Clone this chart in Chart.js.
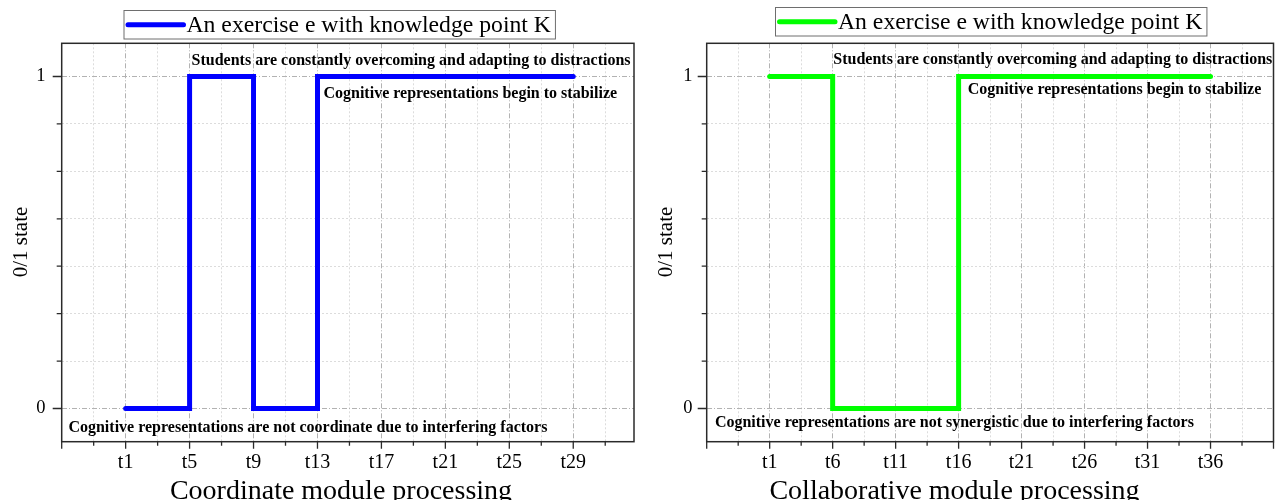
<!DOCTYPE html>
<html><head><meta charset="utf-8">
<script src="https://cdn.jsdelivr.net/npm/chart.js@4/dist/chart.umd.min.js"></script>
<style>
html,body{margin:0;padding:0;background:#fff;overflow:hidden;}
#wrap{position:relative;width:1283px;height:500px;background:#fff;}
canvas{position:absolute;top:0;}
</style></head><body>
<div id="wrap">
<canvas id="leftChart" width="641" height="500" style="left:0px"></canvas>
<canvas id="rightChart" width="642" height="500" style="left:641px"></canvas>
</div>
<script>
// ---------- data ----------
const seriesLabel = 'An exercise e with knowledge point K';
const leftTimes  = [1, 5, 9, 13, 29];
const leftStates = [0, 1, 0, 1, 1];
const rightTimes  = [1, 6, 16, 36];
const rightStates = [1, 0, 1, 1];
const leftTickValues  = [1, 5, 9, 13, 17, 21, 25, 29];
const leftTickLabels  = ['t1', 't5', 't9', 't13', 't17', 't21', 't25', 't29'];
const rightTickValues = [1, 6, 11, 16, 21, 26, 31, 36];
const rightTickLabels = ['t1', 't6', 't11', 't16', 't21', 't26', 't31', 't36'];
const yTickValues = [0, 1];
const yTickLabels = ['0', '1'];
const yAxisTitle = '0/1 state';
const leftXTitle = 'Coordinate module processing';
const rightXTitle = 'Collaborative module processing';
const leftNotes = [
  'Students are constantly overcoming and adapting to distractions',
  'Cognitive representations begin to stabilize',
  'Cognitive representations are not coordinate due to interfering factors'
];
const rightNotes = [
  'Students are constantly overcoming and adapting to distractions',
  'Cognitive representations begin to stabilize',
  'Cognitive representations are not synergistic due to interfering factors'
];

// ---------- helpers ----------
const SERIF = '"Liberation Serif", "Times New Roman", serif';
Chart.defaults.font.family = SERIF;

const decorPlugin = {
  id: 'decor',
  afterDatasetsDraw(chart, args, opts) {
    const ctx = chart.ctx, a = chart.chartArea;
    const xs = chart.scales.x, ys = chart.scales.y;
    ctx.save();
    // frame
    ctx.strokeStyle = '#2a2a2a';
    ctx.lineWidth = 1.5;
    ctx.strokeRect(a.left, a.top, a.right - a.left, a.bottom - a.top);
    // tick marks
    ctx.lineWidth = 1.3;
    ctx.beginPath();
    xs.ticks.forEach(t => {
      const px = xs.getPixelForValue(t.value);
      const len = t.major ? 7 : 4;
      ctx.moveTo(px, a.bottom); ctx.lineTo(px, a.bottom + len);
    });
    ys.ticks.forEach(t => {
      const py = ys.getPixelForValue(t.value);
      const len = t.major ? 9 : 5;
      ctx.moveTo(a.left, py); ctx.lineTo(a.left - len, py);
    });
    ctx.stroke();
    // notes
    ctx.fillStyle = '#000';
    ctx.font = 'bold 16px ' + SERIF;
    ctx.textAlign = 'left';
    ctx.textBaseline = 'middle';
    (opts.notes || []).forEach(n => {
      ctx.fillText(n.text, xs.getPixelForValue(n.x), ys.getPixelForValue(n.y));
    });
    // axis titles
    ctx.font = '28px ' + SERIF;
    ctx.textAlign = 'center';
    ctx.textBaseline = 'alphabetic';
    ctx.fillText(opts.xTitle.text, opts.xTitle.cx, opts.xTitle.baseline);
    ctx.save();
    ctx.translate(opts.yTitle.cx, opts.yTitle.cy);
    ctx.rotate(-Math.PI / 2);
    ctx.font = '21px ' + SERIF;
    ctx.textBaseline = 'middle';
    ctx.fillText(opts.yTitle.text, 0, 0);
    ctx.restore();
    // legend
    const L = opts.legend;
    const ds = chart.data.datasets[0];
    ctx.font = L.fontSize + 'px ' + SERIF;
    const tw = ctx.measureText(ds.label).width;
    const w = L.lineLen + L.gap + tw + L.padR;
    ctx.strokeStyle = '#6e6e6e';
    ctx.lineWidth = 1;
    ctx.strokeRect(L.left + 0.5, L.top + 0.5, w, L.height);
    const cy = L.top + L.height / 2 + 0.5;
    ctx.strokeStyle = ds.borderColor;
    ctx.lineWidth = 5;
    ctx.lineCap = 'round';
    ctx.beginPath();
    ctx.moveTo(L.left + 4.5, cy);
    ctx.lineTo(L.left + L.lineLen, cy);
    ctx.stroke();
    ctx.fillStyle = '#000';
    ctx.textAlign = 'left';
    ctx.textBaseline = 'middle';
    ctx.fillText(ds.label, L.left + L.lineLen + L.gap, cy + 1);
    ctx.restore();
  }
};

function buildChart(id, opt) {
  const labelFor = v => {
    const i = opt.tickValues.findIndex(tv => Math.abs(tv - v) < 1e-6);
    return i >= 0 ? opt.tickLabels[i] : '';
  };
  const yLabelFor = v => {
    const i = yTickValues.findIndex(tv => Math.abs(tv - v) < 1e-6);
    return i >= 0 ? yTickLabels[i] : '';
  };
  return new Chart(document.getElementById(id), {
    type: 'line',
    data: {
      datasets: [{
        label: seriesLabel,
        data: opt.times.map((t, i) => ({ x: t, y: opt.states[i] })),
        borderColor: opt.color,
        backgroundColor: opt.color,
        borderWidth: 5,
        stepped: 'before',
        pointRadius: 0,
        borderCapStyle: 'round',
        borderJoinStyle: 'miter',
        fill: false
      }]
    },
    options: {
      responsive: false,
      animation: false,
      devicePixelRatio: 1,
      layout: { padding: { left: 0, top: 43.3, right: opt.padRight, bottom: 0 } },
      plugins: {
        legend: { display: false },
        tooltip: { enabled: false },
        decor: {
          notes: opt.notes,
          xTitle: opt.xTitle,
          yTitle: opt.yTitle,
          legend: opt.legend
        }
      },
      scales: {
        x: {
          type: 'linear',
          min: opt.xMin, max: opt.xMax,
          afterBuildTicks: s => {
            const step = (opt.tickValues[1] - opt.tickValues[0]) / 2;
            const arr = [];
            for (let v = opt.xMin; v <= opt.xMax + 1e-9; v += step) {
              const k = (v - opt.tickValues[0]) / (2 * step);
              arr.push({ value: v, major: Math.abs(k - Math.round(k)) < 1e-6 });
            }
            s.ticks = arr;
          },
          afterFit: s => { s.height = 58.3; },
          grid: {
            drawTicks: false,
            color: c => (c.tick && c.tick.major) ? '#b2b2b2' : '#dcdcdc',
            lineWidth: 1
          },
          border: {
            display: false,
            dash: c => (c.tick && c.tick.major) ? [5, 2, 1, 2] : [2, 2]
          },
          ticks: {
            autoSkip: false, maxRotation: 0, minRotation: 0,
            padding: 9.5,
            color: '#000',
            font: { size: 20, family: SERIF },
            callback: v => labelFor(v)
          }
        },
        y: {
          type: 'linear',
          min: -0.1, max: 1.1,
          afterBuildTicks: s => {
            const arr = [];
            for (let i = 0; i <= 7; i++) arr.push({ value: i / 7, major: i === 0 || i === 7 });
            s.ticks = arr;
          },
          afterFit: s => { s.width = opt.yWidth; },
          grid: {
            drawTicks: false,
            color: c => (c.tick && c.tick.major) ? '#b2b2b2' : '#dcdcdc',
            lineWidth: 1
          },
          border: {
            display: false,
            dash: c => (c.tick && c.tick.major) ? [5, 2, 1, 2] : [2, 2]
          },
          ticks: {
            padding: opt.yPad,
            color: '#000',
            font: { size: 18.5, family: SERIF },
            callback: v => yLabelFor(v)
          }
        }
      }
    },
    plugins: [decorPlugin]
  });
}

buildChart('leftChart', {
  times: leftTimes, states: leftStates, color: '#0000ff',
  tickValues: leftTickValues, tickLabels: leftTickLabels,
  xMin: -3, xMax: 32.8, padRight: 7, yWidth: 61.7, yPad: 16.2,
  notes: [
    { text: leftNotes[0], x: 5.125, y: 1.046 },
    { text: leftNotes[1], x: 13.375, y: 0.948 },
    { text: leftNotes[2], x: -2.58, y: -0.058 }
  ],
  xTitle: { text: leftXTitle, cx: 341, baseline: 499 },
  yTitle: { text: yAxisTitle, cx: 21, cy: 242 },
  legend: { left: 123.5, top: 10, height: 28.5, lineLen: 60, gap: 3, padR: 4, fontSize: 23.7 }
});

buildChart('rightChart', {
  times: rightTimes, states: rightStates, color: '#00ff00',
  tickValues: rightTickValues, tickLabels: rightTickLabels,
  xMin: -4, xMax: 41, padRight: 2.3, yWidth: 65.7, yPad: 14.2,
  notes: [
    { text: rightNotes[0], x: 6.05, y: 1.051 },
    { text: rightNotes[1], x: 16.72, y: 0.961 },
    { text: rightNotes[2], x: -3.35, y: -0.044 }
  ],
  xTitle: { text: rightXTitle, cx: 313.5, baseline: 499 },
  yTitle: { text: yAxisTitle, cx: 25.7, cy: 242 },
  legend: { left: 134, top: 7, height: 28.5, lineLen: 60, gap: 3, padR: 4, fontSize: 23.7 }
});
</script>
</body></html>
